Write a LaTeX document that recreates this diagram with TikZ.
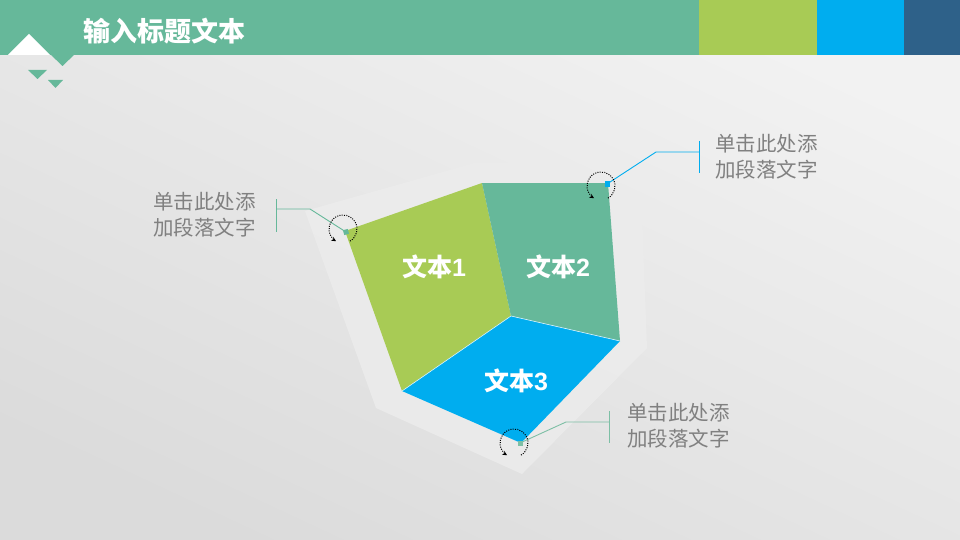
\documentclass[tikz,border=0pt]{standalone}
\usepackage{fontspec}
\setmainfont{Noto Sans CJK SC}
\newfontfamily\digitfont{Liberation Sans}
\usetikzlibrary{arrows.meta}
\definecolor{cteal}{HTML}{66B89A}
\definecolor{cgreen}{HTML}{A8CB55}
\definecolor{cblue}{HTML}{00ADEF}
\definecolor{cdark}{HTML}{2E6189}
\definecolor{cnote}{HTML}{808080}
\definecolor{cpale}{HTML}{ECECEC}
\definecolor{cleadg}{HTML}{7DBFA5}
\begin{document}
\begin{tikzpicture}[x=1pt,y=-1pt,
  facelabel/.style={text=white,font=\bfseries\fontsize{25}{25}\selectfont,inner sep=0},
  note/.style={text=cnote,font=\fontsize{20.5}{26}\selectfont,align=left,inner sep=0,anchor=west},
  lead/.style={line width=0.9pt},
  spin/.style={dash pattern=on 1pt off 1.3pt,line width=1pt,-{Stealth[length=4.5pt,width=4.5pt]}},
  dotsq/.style={minimum size=5pt,inner sep=0,draw=none}]
\useasboundingbox (0,0) rectangle (960,540);
% background
\shade[top color=white!95!black,bottom color=white!86!black,shading angle=-25] (0,0) rectangle (960,540);
% header
\fill[cteal] (0,0) rectangle (699,55);
\fill[cgreen] (699,0) rectangle (817,55);
\fill[cblue] (817,0) rectangle (904,55);
\fill[cdark] (904,0) rectangle (960,55);
\fill[white] (8,55) -- (29,34) -- (50,55) -- cycle;
\fill[cteal] (50,54) -- (75,54) -- (62.5,66) -- cycle;
\fill[cteal] (28,70) -- (47,70) -- (37.5,79) -- cycle;
\fill[cteal] (48,80) -- (63,80) -- (55.5,88) -- cycle;
\node[anchor=west,text=white,font=\bfseries\fontsize{27}{27}\selectfont,inner sep=0] (title) at (83,31) {输入标题文本};
% pale backdrop
\fill[cpale,opacity=0.85] (305,211) -- (475,163) -- (640,165) -- (647,348) -- (522,474) -- (376,408) -- cycle;
% faces
\coordinate (fTL) at (345,231);
\coordinate (fT) at (482,183);
\coordinate (fTR) at (608,183);
\coordinate (fC) at (511,316);
\coordinate (fR) at (620,341);
\coordinate (fBL) at (402,391);
\coordinate (fB) at (521,443);
\fill[cgreen] (fTL) -- (fT) -- (fC) -- (fBL) -- cycle;
\fill[cteal] (fT) -- (fTR) -- (fR) -- (fC) -- cycle;
\fill[cblue] (fC) -- (fR) -- (fB) -- (fBL) -- cycle;
\draw[white!85!cblue,line width=0.6pt] (fBL) -- (fC) -- (fR);
\node[facelabel] (t1) at (434,267) {文本{\digitfont 1}};
\node[facelabel] (t2) at (558,267) {文本{\digitfont 2}};
\node[facelabel] (t3) at (516,381) {文本{\digitfont 3}};
% left callout
\node[note,anchor=west] (n1) at (153,215) {单击此处添\\加段落文字};
\coordinate (lbT) at (276,199);
\coordinate (lbB) at (276,232);
\coordinate (lbM) at (276,209);
\coordinate (lK) at (310,209);
\node[dotsq,fill=cteal,rotate=15] (lP) at (346,232) {};
\draw[lead,cteal] (lbT) -- (lbB);
\draw[lead,cteal] (lbM) -- (lK) -- (lP.center);
\coordinate (lc) at (343,229);
\draw[spin] ([shift={(-60:14pt)}]lc) arc[start angle=-60,end angle=240,radius=14pt];
% right top callout
\node[note] (n2) at (715,157) {单击此处添\\加段落文字};
\coordinate (rbT) at (699,141);
\coordinate (rbB) at (699,173);
\coordinate (rbM) at (699,152);
\coordinate (rK) at (656,152);
\node[dotsq,fill=cblue] (rP) at (607,184) {};
\draw[lead,cblue] (rbT) -- (rbB);
\draw[lead,cblue] (rbM) -- (rK) -- (rP.center);
\coordinate (rc) at (601,186);
\draw[spin] ([shift={(-60:14pt)}]rc) arc[start angle=-60,end angle=240,radius=14pt];
% bottom callout
\node[note] (n3) at (627,426) {单击此处添\\加段落文字};
\coordinate (bbT) at (609,411);
\coordinate (bbB) at (609,443);
\coordinate (bbM) at (609,422);
\coordinate (bK) at (566,422);
\node[dotsq,fill=cleadg] (bP) at (520,443) {};
\draw[lead,cleadg] (bbT) -- (bbB);
\draw[lead,cleadg] (bbM) -- (bK) -- (bP.center);
\coordinate (bc) at (514,443);
\draw[spin] ([shift={(-60:14pt)}]bc) arc[start angle=-60,end angle=240,radius=14pt];
\end{tikzpicture}
\end{document}
